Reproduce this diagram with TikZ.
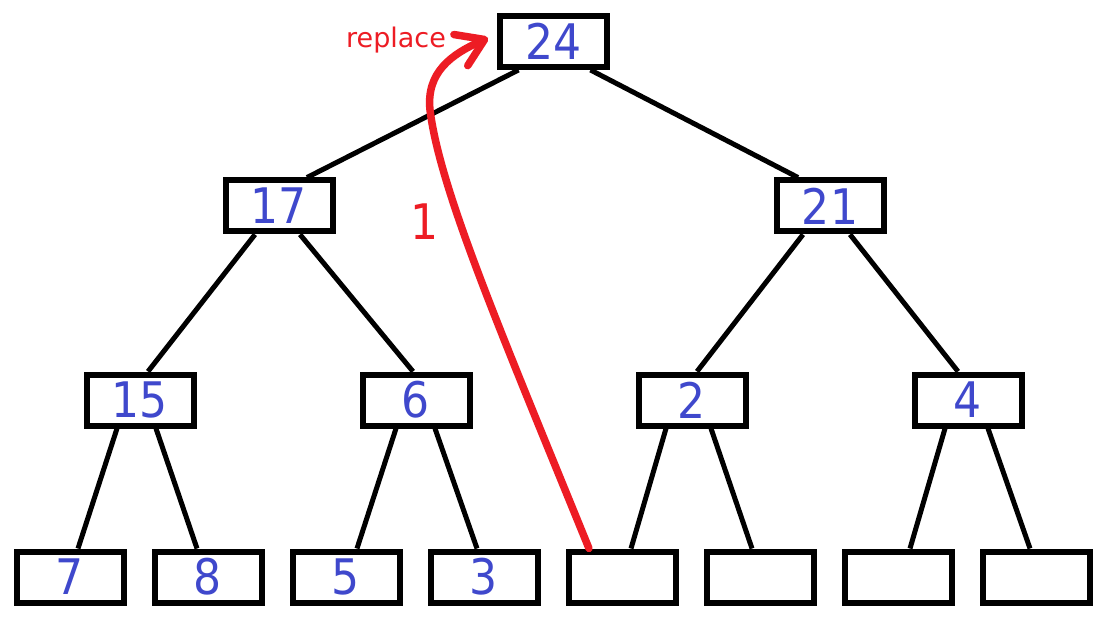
\documentclass[tikz,border=0pt]{standalone}
\usepackage{fontspec}
\usetikzlibrary{arrows.meta,calc}
\newfontfamily\numfont[FakeStretch=0.9]{DejaVu Sans}
\newfontfamily\lblfont{DejaVu Sans}
\definecolor{numblue}{RGB}{63,72,204}
\definecolor{arrred}{RGB}{237,28,36}
\begin{document}
\begin{tikzpicture}[x=1pt,y=-1pt,
  box/.style={draw, line width=6pt, minimum width=107pt, minimum height=51pt, inner sep=0pt,
    fill=white, text=numblue, font=\numfont\fontsize{49}{49}\selectfont},
  edge/.style={line width=5pt},
  hl/.style={draw=arrred, line width=7.5pt, line cap=round,
    -{Straight Barb[length=26pt,width=34pt,round]}},
  redtext/.style={text=arrred, inner sep=0pt, anchor=base}]
\useasboundingbox[fill=white] (0,0) rectangle (1107,620);
% nodes
\node[box] (root) at (553.5,41.5) {24};
\node[box] (n17) at (279,206) {17};
\node[box] (n21) at (830,206) {21};
\node[box] (n15) at (140,400) {15};
\node[box] (n6) at (416,400) {6};
\node[box] (n2) at (692,400) {2};
\node[box] (n4) at (968,400) {4};
\node[box] (l1) at (70,577) {7};
\node[box] (l2) at (208,577) {8};
\node[box] (l3) at (346,577) {5};
\node[box] (l4) at (484,577) {3};
\node[box] (l5) at (622,577) {};
\node[box] (l6) at (760,577) {};
\node[box] (l7) at (898,577) {};
\node[box] (l8) at (1036,577) {};
% edges
\draw[edge] ([xshift=-35pt]root.south) -- ([xshift=28pt]n17.north);
\draw[edge] ([xshift=37pt]root.south) -- ([xshift=-32pt]n21.north);
\draw[edge] ([xshift=-24pt]n17.south) -- ([xshift=8pt]n15.north);
\draw[edge] ([xshift=21pt]n17.south) -- ([xshift=-3pt]n6.north);
\draw[edge] ([xshift=-27pt]n21.south) -- ([xshift=5pt]n2.north);
\draw[edge] ([xshift=20pt]n21.south) -- ([xshift=-10pt]n4.north);
\draw[edge] ([xshift=-23pt]n15.south) -- ([xshift=8pt]l1.north);
\draw[edge] ([xshift=16pt]n15.south) -- ([xshift=-11pt]l2.north);
\draw[edge] ([xshift=-20pt]n6.south) -- ([xshift=11pt]l3.north);
\draw[edge] ([xshift=19pt]n6.south) -- ([xshift=-7pt]l4.north);
\draw[edge] ([xshift=-26pt]n2.south) -- ([xshift=9pt]l5.north);
\draw[edge] ([xshift=19pt]n2.south) -- ([xshift=-8pt]l6.north);
\draw[edge] ([xshift=-23pt]n4.south) -- ([xshift=12pt]l7.north);
\draw[edge] ([xshift=20pt]n4.south) -- ([xshift=-6pt]l8.north);
% red annotation
\node[redtext, font=\lblfont\fontsize{27}{27}\selectfont] (rep) at (396,48) {replace};
\node[redtext, font=\numfont\fontsize{49}{49}\selectfont] (one) at (425,240) {1};
\coordinate (tip) at ($(root.west)+(-9,-3.5)$);
\draw[hl] ([xshift=-33pt]l5.north) .. controls (500,330) and (440,190) .. (430,110)
  .. controls (426,72) and (452,54) .. (tip);
\end{tikzpicture}
\end{document}
